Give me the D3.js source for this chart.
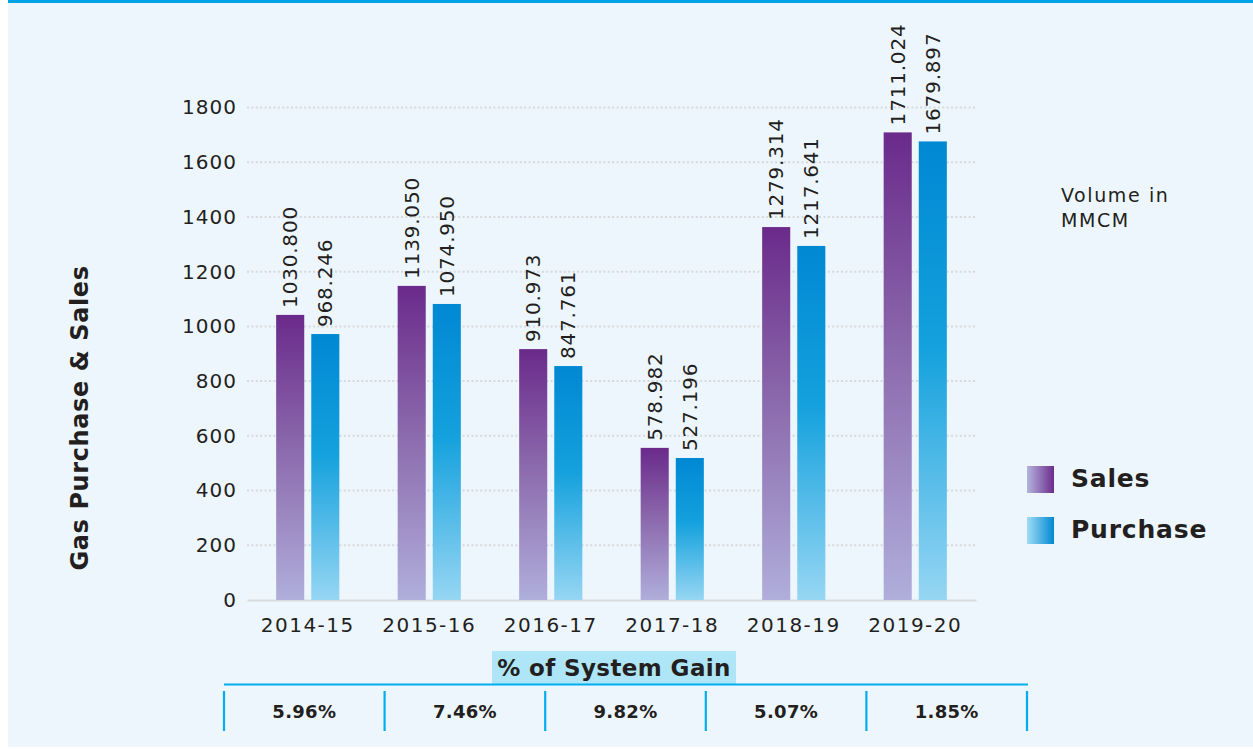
<!doctype html>
<html lang="en">
  <head>
    <meta charset="utf-8">
    <title>Gas Purchase & Sales</title>
    <script src="https://d3js.org/d3.v7.min.js"></script>
    <style>
      body { margin: 0; background: #ffffff; }
      svg text { font-family: 'DejaVu Sans', sans-serif; fill: #231f20; }
    </style>
  </head>
  <body>
    <div id='chart'></div>
    <script type="text/javascript">
    // Data
    var years = ['2014-15', '2015-16', '2016-17', '2017-18', '2018-19', '2019-20'];
    var salesValues = [1042, 1148, 917, 556, 1363, 1709];
    var purchaseValues = [972, 1082, 855, 519, 1294, 1676];
    var salesLabels = ['1030.800', '1139.050', '910.973', '578.982', '1279.314', '1711.024'];
    var purchaseLabels = ['968.246', '1074.950', '847.761', '527.196', '1217.641', '1679.897'];
    var yTicks = [0, 200, 400, 600, 800, 1000, 1200, 1400, 1600, 1800];
    var gainLabels = ['5.96%', '7.46%', '9.82%', '5.07%', '1.85%'];
    var seriesNames = ['Sales', 'Purchase'];

    var W = 1253, H = 749;
    var svg = d3.select('#chart').append('svg')
        .attr('width', W)
        .attr('height', H);

    // gradients
    var defs = svg.append('defs');
    function vGrad(id, top, mid, bottom) {
        var g = defs.append('linearGradient').attr('id', id)
            .attr('x1', 0).attr('y1', 0).attr('x2', 0).attr('y2', 1);
        g.append('stop').attr('offset', '0%').attr('stop-color', top);
        g.append('stop').attr('offset', '45%').attr('stop-color', mid);
        g.append('stop').attr('offset', '100%').attr('stop-color', bottom);
    }
    function hGrad(id, left, right) {
        var g = defs.append('linearGradient').attr('id', id)
            .attr('x1', 0).attr('y1', 0).attr('x2', 1).attr('y2', 0);
        g.append('stop').attr('offset', '0%').attr('stop-color', left);
        g.append('stop').attr('offset', '100%').attr('stop-color', right);
    }
    vGrad('gSales', '#6a2a8b', '#8a67ab', '#b0aedb');
    vGrad('gPurchase', '#0088d3', '#14a1dd', '#96d6f3');
    hGrad('lSales', '#b4b4de', '#6d2c8c');
    hGrad('lPurchase', '#a0dcf5', '#0089d2');
    var fills = {Sales: 'url(#gSales)', Purchase: 'url(#gPurchase)'};
    var legendFills = {Sales: 'url(#lSales)', Purchase: 'url(#lPurchase)'};

    // panel background + top rule
    svg.append('rect').attr('x', 8).attr('y', 0).attr('width', W - 8).attr('height', H - 2)
        .attr('fill', '#eef6fd');
    svg.append('rect').attr('x', 8).attr('y', 0).attr('width', W - 8).attr('height', 3)
        .attr('fill', '#00a3e6');

    // scales
    var x0 = d3.scaleBand().domain(years).range([247, 976]).paddingInner(0.48).paddingOuter(0.24);
    var x1 = d3.scaleBand().domain(seriesNames).range([0, x0.bandwidth()]).paddingInner(0.2);
    var y = d3.scaleLinear().domain([0, 1800]).range([600, 107.5]);

    // grid
    svg.append('g').selectAll('line.grid')
        .data(yTicks.filter(function(d) { return d > 0; }))
        .enter().append('line')
        .attr('x1', 247).attr('x2', 976)
        .attr('y1', function(d) { return y(d); })
        .attr('y2', function(d) { return y(d); })
        .attr('stroke', '#d6d9dc')
        .attr('stroke-width', 2)
        .attr('stroke-dasharray', '2,2.4');

    // y axis
    var yAxis = svg.append('g')
        .attr('transform', 'translate(247,0)')
        .call(d3.axisLeft(y).tickValues(yTicks).tickFormat(d3.format('d')).tickSize(0).tickPadding(10));
    yAxis.select('.domain').remove();
    yAxis.selectAll('text').style('font-size', '20px').style('letter-spacing', '1px').attr('fill', '#231f20');

    // x axis
    var xAxis = svg.append('g')
        .attr('transform', 'translate(0,600)')
        .call(d3.axisBottom(x0).tickSize(0).tickPadding(18));
    xAxis.select('.domain').attr('stroke', '#d9dcdf').attr('stroke-width', 2);
    xAxis.selectAll('text').style('font-size', '20px').style('letter-spacing', '1.5px').attr('fill', '#231f20');

    // bars
    var rows = years.map(function(yr, i) {
        return [
            {year: yr, key: 'Sales', value: salesValues[i], label: salesLabels[i]},
            {year: yr, key: 'Purchase', value: purchaseValues[i], label: purchaseLabels[i]}
        ];
    });
    var groups = svg.append('g').selectAll('g.year')
        .data(rows)
        .enter().append('g')
        .attr('transform', function(d) { return 'translate(' + x0(d[0].year) + ',0)'; });

    groups.selectAll('rect')
        .data(function(d) { return d; })
        .enter().append('rect')
        .attr('x', function(d) { return x1(d.key); })
        .attr('y', function(d) { return y(d.value); })
        .attr('width', x1.bandwidth())
        .attr('height', function(d) { return y(0) - y(d.value); })
        .attr('fill', function(d) { return fills[d.key]; });

    groups.selectAll('text')
        .data(function(d) { return d; })
        .enter().append('text')
        .attr('transform', function(d) {
            return 'translate(' + (x1(d.key) + x1.bandwidth() / 2) + ',' + (y(d.value) - 7) + ')rotate(-90)';
        })
        .attr('dy', '0.35em')
        .style('font-size', '20px')
        .style('letter-spacing', '0.8px')
        .text(function(d) { return d.label; });

    // y title
    svg.append('text')
        .attr('transform', 'translate(80,418)rotate(-90)')
        .attr('text-anchor', 'middle')
        .attr('dy', '0.35em')
        .style('font-size', '24px')
        .style('font-weight', 'bold')
        .style('letter-spacing', '0.6px')
        .text('Gas Purchase & Sales');

    // unit note
    svg.append('text').attr('x', 1061).attr('y', 195).attr('dy', '0.35em')
        .style('font-size', '19px').style('letter-spacing', '1.6px').text('Volume in');
    svg.append('text').attr('x', 1061).attr('y', 220).attr('dy', '0.35em')
        .style('font-size', '19px').style('letter-spacing', '1.6px').text('MMCM');

    // legend
    var legend = svg.append('g').selectAll('g.legend')
        .data(seriesNames)
        .enter().append('g')
        .attr('transform', function(d, i) { return 'translate(1027,' + (466 + i * 51) + ')'; });
    legend.append('rect')
        .attr('width', 27).attr('height', 27)
        .attr('fill', function(d) { return legendFills[d]; });
    legend.append('text')
        .attr('x', 44).attr('y', 12).attr('dy', '0.35em')
        .style('font-size', '25px')
        .style('font-weight', 'bold')
        .style('letter-spacing', '0.8px')
        .text(function(d) { return d; });

    // % of system gain table
    var gx = d3.scaleBand().domain(gainLabels.map(function(d, i) { return i; })).range([224, 1027]);
    svg.append('rect').attr('x', 492).attr('y', 651).attr('width', 244).attr('height', 33)
        .attr('fill', '#aee6f8');
    svg.append('text').attr('x', 614).attr('y', 668).attr('dy', '0.35em')
        .attr('text-anchor', 'middle')
        .style('font-size', '23px').style('font-weight', 'bold').style('letter-spacing', '0.4px')
        .text('% of System Gain');
    svg.append('line').attr('x1', 224).attr('x2', 1028).attr('y1', 684.5).attr('y2', 684.5)
        .attr('stroke', '#00aeef').attr('stroke-width', 2);
    svg.append('g').selectAll('line.div')
        .data(d3.range(gainLabels.length + 1))
        .enter().append('line')
        .attr('x1', function(d) { return 224 + d * gx.step(); })
        .attr('x2', function(d) { return 224 + d * gx.step(); })
        .attr('y1', 691).attr('y2', 731)
        .attr('stroke', '#00aeef').attr('stroke-width', 2.2);
    svg.append('g').selectAll('text.gain')
        .data(gainLabels)
        .enter().append('text')
        .attr('x', function(d, i) { return gx(i) + gx.bandwidth() / 2; })
        .attr('y', 712).attr('dy', '0.35em')
        .attr('text-anchor', 'middle')
        .style('font-size', '18px').style('font-weight', 'bold').style('letter-spacing', '0.3px')
        .text(function(d) { return d; });
    </script>
  </body>
</html>
